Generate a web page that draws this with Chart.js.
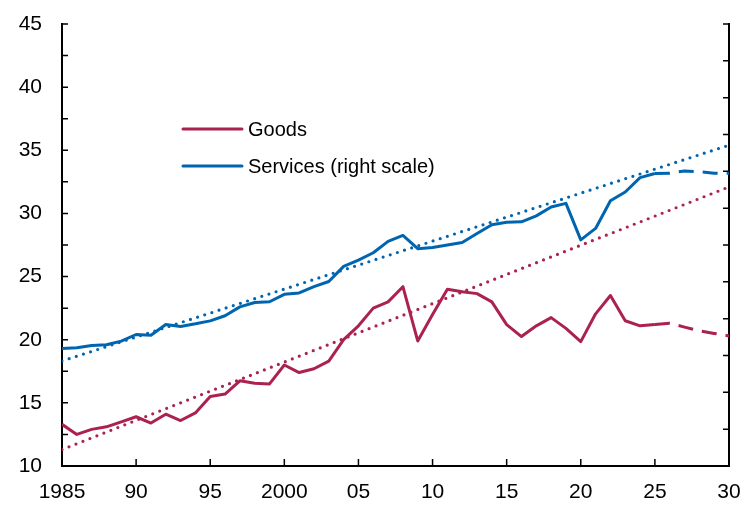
<!DOCTYPE html>
<html>
<head>
<meta charset="utf-8">
<script src="https://cdn.jsdelivr.net/npm/chart.js@4"></script>
<style>
  html, body { margin: 0; padding: 0; background: #fff; }
  #wrap { width: 741px; height: 506px; }
</style>
</head>
<body>
<div id="wrap"><canvas id="lineChart"></canvas></div>
<script>
// actual data 1985-2025
const years = [1985, 1986, 1987, 1988, 1989, 1990, 1991, 1992, 1993, 1994,
  1995, 1996, 1997, 1998, 1999, 2000, 2001, 2002, 2003, 2004,
  2005, 2006, 2007, 2008, 2009, 2010, 2011, 2012, 2013, 2014,
  2015, 2016, 2017, 2018, 2019, 2020, 2021, 2022, 2023, 2024, 2025];
const goods = [13.3, 12.5, 12.9, 13.1, 13.5, 13.9, 13.4, 14.1, 13.6, 14.2,
  15.5, 15.7, 16.75, 16.55, 16.5, 18.0, 17.4, 17.7, 18.3, 20.0,
  21.1, 22.5, 23.0, 24.2, 19.9, 22.0, 24.0, 23.8, 23.65, 23.0,
  21.2, 20.25, 21.1, 21.75, 20.9, 19.85, 22.05, 23.5, 21.5, 21.1, 21.2];
// services on right scale
const services = [3.19, 3.21, 3.27, 3.29, 3.39, 3.57, 3.55, 3.84, 3.79, 3.86,
  3.94, 4.08, 4.32, 4.44, 4.46, 4.66, 4.70, 4.87, 5.01, 5.42,
  5.59, 5.79, 6.10, 6.26, 5.90, 5.93, 6.00, 6.07, 6.31, 6.55,
  6.62, 6.63, 6.79, 7.03, 7.13, 6.14, 6.45, 7.20, 7.44, 7.83, 7.94];

// projections
const projYears = [2025, 2026, 2027, 2028, 2029, 2030];
const goodsProj = [21.2, 21.3, 21.0, 20.7, 20.5, 20.3];
const servicesProj = [7.94, 7.95, 8.01, 7.99, 7.95, 7.95];

// trend lines
const trendYears = [1985, 2030];
const goodsTrend = [11.3, 32.1];
const servicesTrend = [2.85, 8.71];

const red = '#AB2152';
const blue = '#0065B0';
const tickFont = { family: '"Liberation Sans", Arial, sans-serif', size: 21 };

const pts = (xs, ys) => xs.map((x, i) => ({ x: x, y: ys[i] }));

// tick marks pointing into the plot
const innerTicks = {
  id: 'innerTicks',
  afterDraw(chart) {
    const ctx = chart.ctx;
    const a = chart.chartArea;
    ctx.save();
    ctx.strokeStyle = '#000';
    ctx.lineWidth = 1.5;
    ctx.beginPath();
    chart.scales.y.ticks.forEach(t => {
      const p = chart.scales.y.getPixelForValue(t.value);
      ctx.moveTo(a.left, p); ctx.lineTo(a.left + 6, p);
    });
    chart.scales.y1.ticks.forEach(t => {
      const p = chart.scales.y1.getPixelForValue(t.value);
      ctx.moveTo(a.right, p); ctx.lineTo(a.right - 6, p);
    });
    chart.scales.x.ticks.forEach(t => {
      const p = chart.scales.x.getPixelForValue(t.value);
      ctx.moveTo(p, a.bottom); ctx.lineTo(p, a.bottom - 7);
    });
    ctx.stroke();
    ctx.restore();
  }
};

const legendBox = {
  id: 'legendBox',
  afterDraw(chart) {
    const ctx = chart.ctx;
    const a = chart.chartArea;
    ctx.save();
    ctx.font = '20px "Liberation Sans", Arial, sans-serif';
    ctx.textBaseline = 'middle';
    ctx.fillStyle = '#000';
    [0, 1].forEach((di, i) => {
      const ds = chart.data.datasets[di];
      const y = a.top + 105 + i * 37;
      ctx.strokeStyle = ds.borderColor;
      ctx.lineWidth = 3;
      ctx.lineCap = 'round';
      ctx.beginPath();
      ctx.moveTo(a.left + 121, y);
      ctx.lineTo(a.left + 180, y);
      ctx.stroke();
      ctx.fillText(ds.label, a.left + 186, y + 1);
    });
    ctx.restore();
  }
};

new Chart(document.getElementById('lineChart'), {
  type: 'line',
  data: {
    datasets: [
      { label: 'Goods', data: pts(years, goods), borderColor: red, yAxisID: 'y', order: 1 },
      { label: 'Services (right scale)', data: pts(years, services), borderColor: blue, yAxisID: 'y1', order: 1 },
      { label: 'Goods projection', data: pts(projYears, goodsProj), borderColor: red, yAxisID: 'y', borderDash: [15, 9], order: 1 },
      { label: 'Services projection', data: pts(projYears, servicesProj), borderColor: blue, yAxisID: 'y1', borderDash: [15, 9], order: 1 },
      { label: 'Goods trend', data: pts(trendYears, goodsTrend), borderColor: red, yAxisID: 'y',
        borderWidth: 3.2, borderDash: [0, 7.5], borderCapStyle: 'round', order: 2 },
      { label: 'Services trend', data: pts(trendYears, servicesTrend), borderColor: blue, yAxisID: 'y1',
        borderWidth: 3.2, borderDash: [0, 7.5], borderCapStyle: 'round', order: 2 }
    ]
  },
  options: {
    responsive: true,
    maintainAspectRatio: false,
    animation: false,
    layout: { padding: { top: 24, right: 0, left: 0, bottom: 0 } },
    elements: {
      point: { radius: 0 },
      line: { borderWidth: 3, tension: 0, borderJoinStyle: 'round' }
    },
    plugins: { legend: { display: false }, tooltip: { enabled: false } },
    scales: {
      x: {
        type: 'linear',
        min: 1985, max: 2030,
        ticks: {
          stepSize: 5, color: '#000', font: tickFont, padding: 14, maxRotation: 0,
          callback: v => (v === 1985 || v === 2000) ? String(v) : String(v % 100).padStart(2, '0')
        },
        grid: { display: true, drawOnChartArea: false, drawTicks: false },
        border: { display: true, color: '#000', width: 2 },
        afterFit: s => { s.height = 40; s.paddingLeft = 0; s.paddingRight = 0; }
      },
      y: {
        position: 'left',
        min: 10, max: 45,
        ticks: {
          stepSize: 2.5, color: '#000', font: tickFont, padding: 20,
          callback: v => v % 5 === 0 ? String(v) : ''
        },
        grid: { display: true, drawOnChartArea: false, drawTicks: false },
        border: { display: true, color: '#000', width: 2 },
        afterFit: s => { s.width = 62; s.paddingTop = 0; s.paddingBottom = 0; }
      },
      y1: {
        position: 'right',
        min: 0, max: 12,
        ticks: { stepSize: 1, callback: () => '' },
        grid: { display: true, drawOnChartArea: false, drawTicks: false },
        border: { display: true, color: '#000', width: 2 },
        afterFit: s => { s.width = 12; s.paddingTop = 0; s.paddingBottom = 0; }
      }
    }
  },
  plugins: [innerTicks, legendBox]
});
</script>
</body>
</html>
